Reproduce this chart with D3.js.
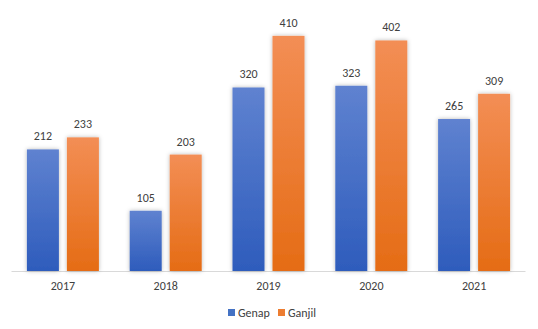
<!DOCTYPE html>
<html>
<head>
<meta charset="utf-8">
<script src="https://cdn.jsdelivr.net/npm/d3@7"></script>
<style>
  html, body { margin: 0; padding: 0; background: #fff; }
  svg { display: block; }
  text { font-family: Calibri, Carlito, "Liberation Sans", Arial, sans-serif; fill: #404040; }
</style>
</head>
<body>
<svg id="chart" width="538" height="329"></svg>
<script>
const years = ["2017", "2018", "2019", "2020", "2021"];
const seriesNames = ["Genap", "Ganjil"];
const genap = [212, 105, 320, 323, 265];
const ganjil = [233, 203, 410, 402, 309];

const W = 538, H = 329;
const svg = d3.select("#chart");
const margin = { left: 11.5, right: 12.5, top: 13, bottom: 58 };
const baseY = H - margin.bottom;

const x0 = d3.scaleBand().domain(years).range([margin.left, W - margin.right]).paddingInner(0).paddingOuter(0);
const bw = 32, gap = 8;
const x1 = d3.scaleOrdinal().domain(seriesNames).range([-gap / 2 - bw, gap / 2]);
const y = d3.scaleLinear().domain([0, 450]).range([baseY, baseY - 450 * 0.5735]);

const defs = svg.append("defs");
const grads = {
  Genap: ["#5f82d0", "#2e5cbc"],
  Ganjil: ["#f38e55", "#e56c15"]
};
seriesNames.forEach((s, i) => {
  const g = defs.append("linearGradient").attr("id", "g" + i)
    .attr("x1", 0).attr("y1", 0).attr("x2", 0).attr("y2", 1);
  g.append("stop").attr("offset", "0%").attr("stop-color", grads[s][0]);
  g.append("stop").attr("offset", "100%").attr("stop-color", grads[s][1]);
});
const f = defs.append("filter").attr("id", "shadow")
  .attr("x", "-30%").attr("y", "-10%").attr("width", "160%").attr("height", "120%");
f.append("feDropShadow").attr("dx", 0).attr("dy", 0).attr("stdDeviation", 2)
  .attr("flood-color", "#000").attr("flood-opacity", 0.28);

// axis line
svg.append("line")
  .attr("x1", margin.left).attr("x2", W - margin.right)
  .attr("y1", baseY + 0.5).attr("y2", baseY + 0.5)
  .attr("stroke", "#d9d9d9").attr("stroke-width", 1);

const rows = years.map((yr, i) => ({ yr, vals: [genap[i], ganjil[i]] }));

const groups = svg.append("g").selectAll("g").data(rows).join("g")
  .attr("transform", d => `translate(${x0(d.yr) + x0.bandwidth() / 2},0)`);

groups.selectAll("rect").data(d => d.vals.map((v, j) => ({ v, s: seriesNames[j], j })))
  .join("rect")
  .attr("x", d => x1(d.s))
  .attr("y", d => y(d.v))
  .attr("width", bw)
  .attr("height", d => baseY - y(d.v))
  .attr("fill", d => `url(#g${d.j})`)
  .attr("filter", "url(#shadow)");

groups.selectAll("text.val").data(d => d.vals.map((v, j) => ({ v, s: seriesNames[j] })))
  .join("text").attr("class", "val")
  .attr("x", d => x1(d.s) + bw / 2)
  .attr("y", d => y(d.v) - 9)
  .attr("text-anchor", "middle")
  .attr("font-size", 12)
  .text(d => d.v);

// category axis labels
const xAxis = d3.axisBottom(x0).tickSize(0).tickPadding(10);
const ax = svg.append("g").attr("transform", `translate(0,${baseY})`).call(xAxis);
ax.select(".domain").remove();
ax.selectAll("text").attr("font-size", 12).attr("fill", "#404040")
  .style("font-family", 'Calibri, Carlito, "Liberation Sans", Arial, sans-serif');

// legend
const legend = svg.append("g").attr("transform", `translate(228,313)`);
const legendItems = [
  { name: "Genap", color: "#4472c4", x: 0 },
  { name: "Ganjil", color: "#ed7d31", x: 50 }
];
legendItems.forEach(it => {
  legend.append("rect").attr("x", it.x).attr("y", -4).attr("width", 7).attr("height", 7).attr("fill", it.color);
  legend.append("text").attr("x", it.x + 10).attr("y", 4).attr("font-size", 12).text(it.name);
});
</script>
</body>
</html>
